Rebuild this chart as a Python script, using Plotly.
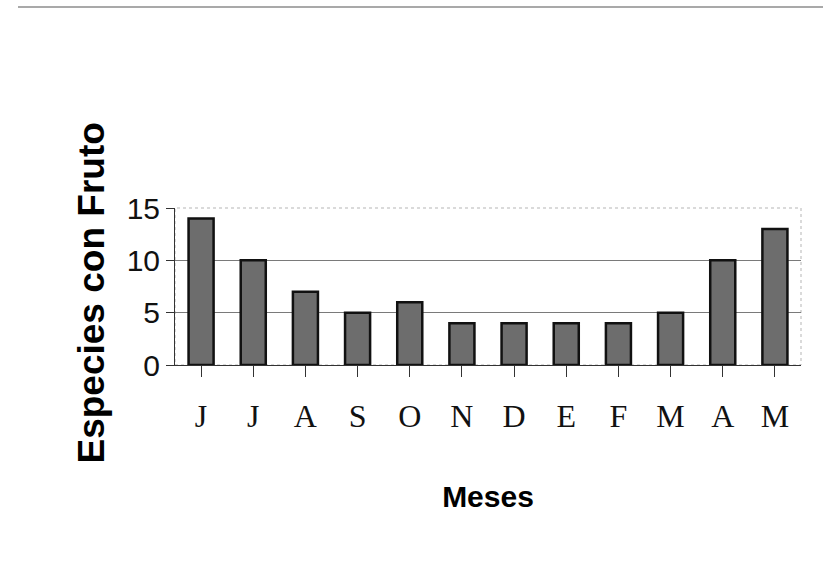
import plotly.graph_objects as go

meses = ["J", "J", "A", "S", "O", "N", "D", "E", "F", "M", "A", "M"]
especies = [14, 10, 7, 5, 6, 4, 4, 4, 4, 5, 10, 13]
y_ticks = [0, 5, 10, 15]
grid_vals = [5, 10]

x_idx = list(range(len(meses)))

W, H = 823, 583
L, R, T, B = 175, 22, 208, 218
PW, PH = W - L - R, H - T - B

fig = go.Figure()
fig.add_trace(go.Bar(
    x=x_idx, y=especies,
    marker=dict(color="#6d6d6d", line=dict(color="#111111", width=2.5)),
    showlegend=False,
))
# invisible trace on overlay axis for gridlines
fig.add_trace(go.Scatter(x=[x_idx[0]], y=[0], yaxis="y2", mode="markers",
                         marker=dict(opacity=0), showlegend=False, hoverinfo="skip"))

fig.update_layout(
    width=W, height=H,
    margin=dict(l=L, r=R, t=T, b=B, autoexpand=False),
    paper_bgcolor="white", plot_bgcolor="white",
    bargap=0.52,
    xaxis=dict(
        tickmode="array", tickvals=x_idx, ticktext=meses,
        range=[-0.5, len(meses) - 0.5],
        tickson="boundaries", ticks="outside", ticklen=11, tickwidth=1, tickcolor="#333",
        showline=True, linecolor="#333", linewidth=1, showgrid=False, zeroline=False,
        tickfont=dict(family="Liberation Serif, Times New Roman, serif", size=32, color="#111"),
        ticklabelstandoff=12,
        title=dict(text="<b>Meses</b>", font=dict(family="Liberation Sans, Arial, sans-serif", size=30, color="#000"),
                   standoff=52),
        automargin=False,
    ),
    yaxis=dict(
        range=[0, 15], tickvals=y_ticks, ticks="outside", ticklen=8, tickwidth=1, tickcolor="#333",
        showline=True, linecolor="#333", linewidth=1, showgrid=False, zeroline=False,
        tickfont=dict(family="Liberation Sans, Arial, sans-serif", size=30, color="#111"),
        automargin=False,
    ),
    yaxis2=dict(
        overlaying="y", matches="y", range=[0, 15], tickvals=grid_vals, showticklabels=False,
        showgrid=True, gridcolor="#7a7a7a", gridwidth=1, zeroline=False, showline=False, ticks="",
    ),
    annotations=[
        dict(text="<b>Especies con Fruto</b>", textangle=-90, showarrow=False,
             xref="paper", yref="paper", x=(90.5 - L) / PW, y=(H - B - 293) / PH,
             xanchor="center", yanchor="middle",
             font=dict(family="Liberation Sans, Arial, sans-serif", size=37, color="#000")),
    ],
    shapes=[
        dict(type="rect", xref="paper", yref="paper", x0=0, x1=1, y0=0, y1=1,
             line=dict(color="#b5b5b5", width=1, dash="dot"), layer="below"),
        dict(type="line", xref="paper", yref="paper",
             x0=(18 - L) / PW, x1=(W - L) / PW,
             y0=(H - B - 7) / PH, y1=(H - B - 7) / PH,
             line=dict(color="#8c8c8c", width=1.5)),
    ],
)

fig.write_html("out.html", config={"displayModeBar": False},
               post_script="document.body.style.margin='0';document.body.style.overflow='hidden';")
